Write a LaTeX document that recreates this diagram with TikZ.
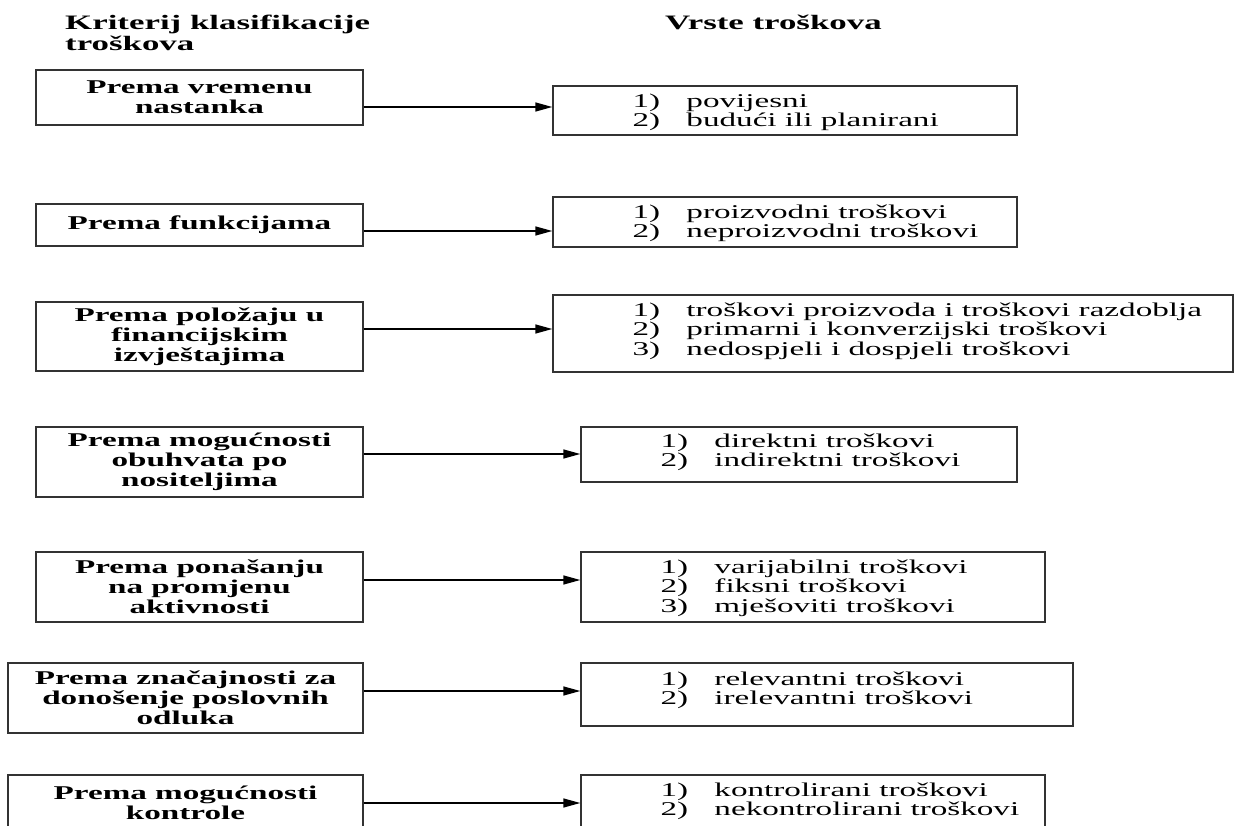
\documentclass[tikz,border=0pt]{standalone}
\usepackage{fontspec}
\setmainfont{Liberation Serif}[FakeStretch=1.7]
\usetikzlibrary{arrows.meta,calc}
\newcommand{\nr}[1]{\makebox[54pt][l]{#1}}
\begin{document}
\begin{tikzpicture}[x=1pt,y=-1pt,
  crit/.style={draw=black!80, line width=1.4pt, rectangle, inner sep=0pt, align=center,
    font=\fontsize{19.5}{20}\selectfont\bfseries},
  kind/.style={draw=black!80, line width=1.4pt, rectangle, inner sep=0pt},
  item/.style={inner sep=0pt, anchor=base west, font=\fontsize{19.5}{19.5}\selectfont},
  head/.style={inner sep=0pt, anchor=base west, font=\fontsize{20.5}{19}\selectfont\bfseries},
  arr/.style={line width=1.4pt, -{Triangle[length=17pt,width=9pt]}}]
\useasboundingbox (0,0) rectangle (1234,826);
\fill[white] (0,0) rectangle (1234,826);
\clip (0,0) rectangle (1234,826);

% headers
\node[head] (H1) at (65,30) {\begin{tabular}[t]{@{}l@{}}Kriterij klasifikacije\\troškova\end{tabular}};
\node[head] (H2) at (665,30) {Vrste troškova};

% criteria boxes
\node[crit, minimum width=327pt, minimum height=55pt] (L1) at (199.5,97.5) {Prema vremenu\\nastanka};
\node[crit, minimum width=327pt, minimum height=42pt] (L2) at (199.5,225) {Prema funkcijama};
\node[crit, minimum width=327pt, minimum height=69pt] (L3) at (199.5,336.5) {Prema položaju u\\financijskim\\izvještajima};
\node[crit, minimum width=327pt, minimum height=70pt] (L4) at (199.5,462) {Prema mogućnosti\\obuhvata po\\nositeljima};
\node[crit, minimum width=327pt, minimum height=70pt] (L5) at (199.5,587) {Prema ponašanju\\na promjenu\\aktivnosti};
\node[crit, minimum width=355pt, minimum height=70pt] (L6) at (185.5,698) {Prema značajnosti za\\donošenje poslovnih\\odluka};
\node[crit, minimum width=355pt, minimum height=56pt] (L7) at (185.5,803) {Prema mogućnosti\\kontrole};

% kinds boxes
\node[kind, minimum width=464pt, minimum height=49pt] (R1) at (785,110.5) {};
\node[kind, minimum width=464pt, minimum height=50pt] (R2) at (785,222) {};
\node[kind, minimum width=680pt, minimum height=77pt] (R3) at (893,333.5) {};
\node[kind, minimum width=436pt, minimum height=55pt] (R4) at (799,454.5) {};
\node[kind, minimum width=464pt, minimum height=70pt] (R5) at (813,587) {};
\node[kind, minimum width=492pt, minimum height=63pt] (R6) at (827,694.5) {};
\node[kind, minimum width=464pt, minimum height=56pt] (R7) at (813,803) {};

\node[item] (T1) at ($(R1.north west)+(80,22)$) {\begin{tabular}[t]{@{}l@{}}\nr{1)}povijesni\\\nr{2)}budući ili planirani\end{tabular}};
\node[item] (T2) at ($(R2.north west)+(80,22)$) {\begin{tabular}[t]{@{}l@{}}\nr{1)}proizvodni troškovi\\\nr{2)}neproizvodni troškovi\end{tabular}};
\node[item] (T3) at ($(R3.north west)+(80,22)$) {\begin{tabular}[t]{@{}l@{}}\nr{1)}troškovi proizvoda i troškovi razdoblja\\\nr{2)}primarni i konverzijski troškovi\\\nr{3)}nedospjeli i dospjeli troškovi\end{tabular}};
\node[item] (T4) at ($(R4.north west)+(80,21)$) {\begin{tabular}[t]{@{}l@{}}\nr{1)}direktni troškovi\\\nr{2)}indirektni troškovi\end{tabular}};
\node[item] (T5) at ($(R5.north west)+(80,22)$) {\begin{tabular}[t]{@{}l@{}}\nr{1)}varijabilni troškovi\\\nr{2)}fiksni troškovi\\\nr{3)}mješoviti troškovi\end{tabular}};
\node[item] (T6) at ($(R6.north west)+(80,23)$) {\begin{tabular}[t]{@{}l@{}}\nr{1)}relevantni troškovi\\\nr{2)}irelevantni troškovi\end{tabular}};
\node[item] (T7) at ($(R7.north west)+(80,22)$) {\begin{tabular}[t]{@{}l@{}}\nr{1)}kontrolirani troškovi\\\nr{2)}nekontrolirani troškovi\end{tabular}};

% arrows
\coordinate (a1) at (0,107);
\coordinate (a2) at (0,231);
\coordinate (a3) at (0,329);
\coordinate (a4) at (0,454);
\coordinate (a5) at (0,580);
\coordinate (a6) at (0,691);
\coordinate (a7) at (0,803);
\foreach \i in {1,...,7}{
  \draw[arr] (L\i.east |- a\i) -- (R\i.west |- a\i);
}
\end{tikzpicture}
\end{document}
